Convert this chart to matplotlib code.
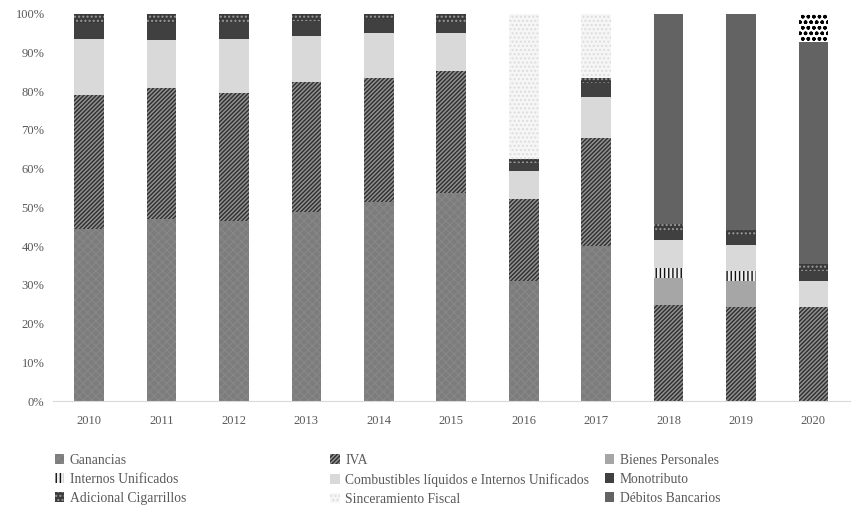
import numpy as np
import matplotlib
matplotlib.use("Agg")
import matplotlib.pyplot as plt
from matplotlib.patches import Patch

plt.rcParams["font.family"] = ["Liberation Serif", "DejaVu Serif"]
plt.rcParams["hatch.linewidth"] = 1.0

# --- datos (% de la recaudación) ---
years = ["2010", "2011", "2012", "2013", "2014", "2015", "2016", "2017", "2018", "2019", "2020"]

ganancias = [44.3, 47.1, 46.5, 48.7, 51.4, 53.8, 31.0, 40.1, 0.0, 0.0, 0.0]
iva = [34.7, 33.6, 32.9, 33.7, 32.0, 31.4, 21.1, 27.8, 24.8, 24.3, 24.3]
bienes = [0.0, 0.0, 0.0, 0.0, 0.0, 0.0, 0.0, 0.0, 6.9, 6.7, 0.0]
internos = [0.0, 0.0, 0.0, 0.0, 0.0, 0.0, 0.0, 0.0, 2.7, 2.6, 0.0]
combustibles = [14.4, 12.5, 14.0, 11.8, 11.7, 9.9, 7.3, 10.6, 7.1, 6.7, 6.7]
monotributo = [4.3, 4.5, 4.5, 3.9, 3.2, 2.7, 2.1, 3.5, 2.4, 2.5, 2.7]
adicional = [2.3, 2.3, 2.1, 1.9, 1.7, 2.1, 1.1, 1.5, 1.8, 1.3, 1.7]
sinceramiento = [0.0, 0.0, 0.0, 0.0, 0.0, 0.0, 37.4, 16.5, 0.0, 0.0, 0.0]
debitos = [0.0, 0.0, 0.0, 0.0, 0.0, 0.0, 0.0, 0.0, 54.3, 55.9, 57.2]
otros = [0.0, 0.0, 0.0, 0.0, 0.0, 0.0, 0.0, 0.0, 0.0, 0.0, 7.4]

labels = ["Ganancias", "IVA", "Bienes Personales", "Internos Unificados",
          "Combustibles líquidos e Internos Unificados", "Monotributo",
          "Adicional Cigarrillos", "Sinceramiento Fiscal", "Débitos Bancarios"]

# (facecolor, hatch, hatch color)
styles = [
    ("#7c7c7c", "xxxx", "#868686"),
    ("#909090", "////////", "#2e2e2e"),
    ("#a6a6a6", None, "#a6a6a6"),
    ("#f0f0f0", "||||", "#111111"),
    ("#d9d9d9", None, "#d9d9d9"),
    ("#404040", None, "#404040"),
    ("#3a3a3a", "....", "#9a9a9a"),
    ("#f6f6f6", "....", "#dddddd"),
    ("#636363", None, "#636363"),
]

series = [ganancias, iva, bienes, internos, combustibles, monotributo,
          adicional, sinceramiento, debitos]

fig = plt.figure(figsize=(8.53, 5.07), dpi=100)
ax = fig.add_axes([0.062, 0.209, 0.934, 0.764])

x = np.arange(len(years))
bottom = np.zeros(len(years))
width = 0.41
handles = []
for vals, lab, (fc, h, hc) in zip(series, labels, styles):
    vals = np.array(vals)
    ax.bar(x, vals, width, bottom=bottom, color=fc, hatch=h,
           edgecolor=hc, linewidth=0)
    bottom += vals
    handles.append(Patch(facecolor=fc, hatch=h, edgecolor=hc, linewidth=0, label=lab))

# segmento superior de 2020 (sin leyenda)
ax.bar(x, otros, width, bottom=bottom, color="white", hatch="ooo",
       edgecolor="black", linewidth=0)

ax.set_xlim(-0.5, len(years) - 0.5)
ax.set_ylim(0, 100)
ax.set_xticks(x)
ax.set_xticklabels(years)
ax.set_yticks(np.arange(0, 101, 10))
ax.set_yticklabels([f"{v}%" for v in range(0, 101, 10)])
for s in ["top", "right", "left"]:
    ax.spines[s].set_visible(False)
ax.spines["bottom"].set_color("#d9d9d9")
ax.tick_params(axis="both", length=0, labelsize=9, colors="#595959", pad=10)
ax.tick_params(axis="y", pad=6)

# --- leyenda en tres columnas ---
cols = [[0, 3, 6], [1, 4, 7], [2, 5, 8]]
xpos = [0.064, 0.387, 0.709]
for c, xp in zip(cols, xpos):
    leg = fig.legend([handles[i] for i in c], [labels[i] for i in c],
                     loc="upper left", bbox_to_anchor=(xp, 0.105),
                     frameon=False, fontsize=9.8, handlelength=0.7,
                     handleheight=0.7, handletextpad=0.4,
                     labelspacing=0.45, borderaxespad=0, borderpad=0)
    for t in leg.get_texts():
        t.set_color("#595959")

fig.savefig("out.png", dpi=100)
